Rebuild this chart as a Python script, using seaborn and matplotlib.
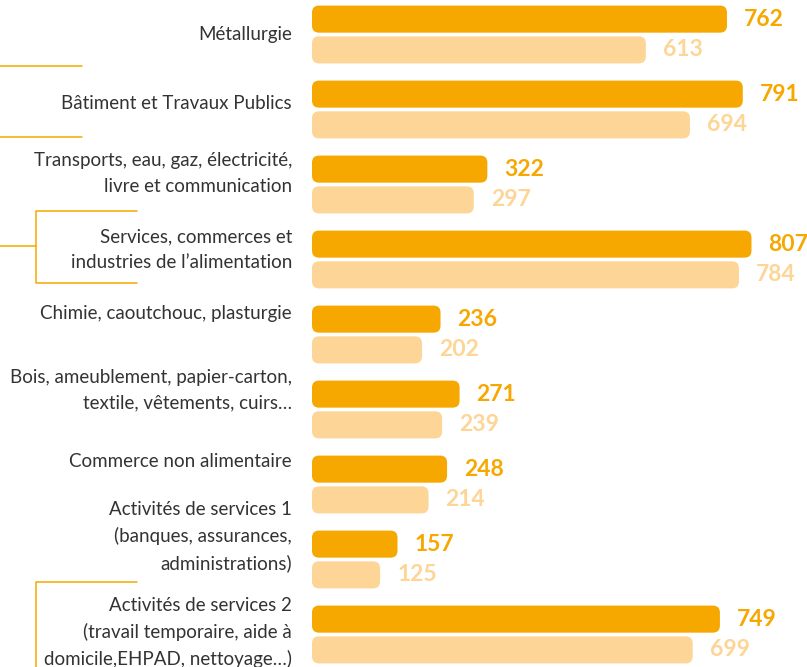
import numpy as np
import pandas as pd
import matplotlib
matplotlib.use('Agg')
import matplotlib.pyplot as plt
from matplotlib.patches import FancyBboxPatch
from matplotlib.lines import Line2D
import seaborn as sns

# ── données ──
secteurs = [
    "Métallurgie",
    "Bâtiment et Travaux Publics",
    "Transports, eau, gaz, électricité,\nlivre et communication",
    "Services, commerces et\nindustries de l’alimentation",
    "Chimie, caoutchouc, plasturgie",
    "Bois, ameublement, papier-carton,\ntextile, vêtements, cuirs…",
    "Commerce non alimentaire",
    "Activités de services 1\n(banques, assurances,\nadministrations)",
    "Activités de services 2\n(travail temporaire, aide à\ndomicile,EHPAD, nettoyage…)",
]
valeurs_fonce = [762, 791, 322, 807, 236, 271, 248, 157, 749]
valeurs_clair = [613, 694, 297, 784, 202, 239, 214, 125, 699]
series = ["série 1", "série 2"]

# décalage vertical des libellés (pixels, vers le haut)
decalage_libelle = [0, 6, 11, 10, 21, 19, 23, 23, 2]

ORANGE = "#F6A800"
ORANGE_CLAIR = "#FDD596"
GRIS = "#333333"

df = pd.DataFrame({
    "secteur": secteurs * 2,
    "valeur": valeurs_fonce + valeurs_clair,
    "serie": [series[0]] * len(secteurs) + [series[1]] * len(secteurs),
})

sns.set_theme(style="white")
plt.rcParams['font.family'] = ['Lato', 'DejaVu Sans']

W, H = 807, 667
X0 = 312          # bord gauche des barres (px)
PX_UNITE = 0.5446 # px par unité
PAS = 75          # px entre catégories
HAUT0 = 34.5      # centre de la 1re catégorie (px)

fig = plt.figure(figsize=(W / 100, H / 100), dpi=100)
ax = fig.add_axes([X0 / W, 0, (W - X0) / W, 1])

sns.barplot(data=df, y="secteur", x="valeur", hue="serie", orient="h",
            palette=[ORANGE, ORANGE_CLAIR], saturation=1, width=0.82, gap=0.12,
            legend=False, ax=ax)

ax.set_xlim(0, (W - X0) / PX_UNITE)
ax.set_ylim(len(secteurs) - 1 + (H - (HAUT0 + PAS * (len(secteurs) - 1))) / PAS,
            -HAUT0 / PAS)
ax.axis('off')

# barres arrondies
rayon = 7 / PX_UNITE
aspect = PX_UNITE / PAS
for p in list(ax.patches):
    x, y, w, h = p.get_x(), p.get_y(), p.get_width(), p.get_height()
    fc = p.get_facecolor()
    ax.add_patch(FancyBboxPatch((x, y), w, h,
                                boxstyle=f"round,pad=0,rounding_size={rayon}",
                                mutation_aspect=aspect, fc=fc, ec='none'))
    ax.annotate(f"{int(round(w))}", xy=(w, y + h / 2), xytext=(17, 0),
                textcoords='offset pixels', ha='left', va='center',
                fontsize=16.5, fontweight='bold', color=fc)
    p.remove()

# libellés
for i, lib in enumerate(secteurs):
    ax.annotate(lib, xy=(0, i), xytext=(-20, decalage_libelle[i]),
                textcoords='offset pixels', ha='right', va='center',
                fontsize=13.5, color=GRIS, linespacing=1.6,
                annotation_clip=False)

# traits décoratifs
def trait(xs, ys):
    fig.add_artist(Line2D([v / W for v in xs], [1 - v / H for v in ys],
                          color=ORANGE, lw=1.1, transform=fig.transFigure))

trait([0, 82], [65.5, 65.5])
trait([0, 82], [137, 137])
trait([137, 36, 36, 137], [211, 211, 283, 283])
trait([0, 36], [246, 246])
trait([137, 36, 36], [582, 582, H])

fig.savefig("out.png", dpi=100)
